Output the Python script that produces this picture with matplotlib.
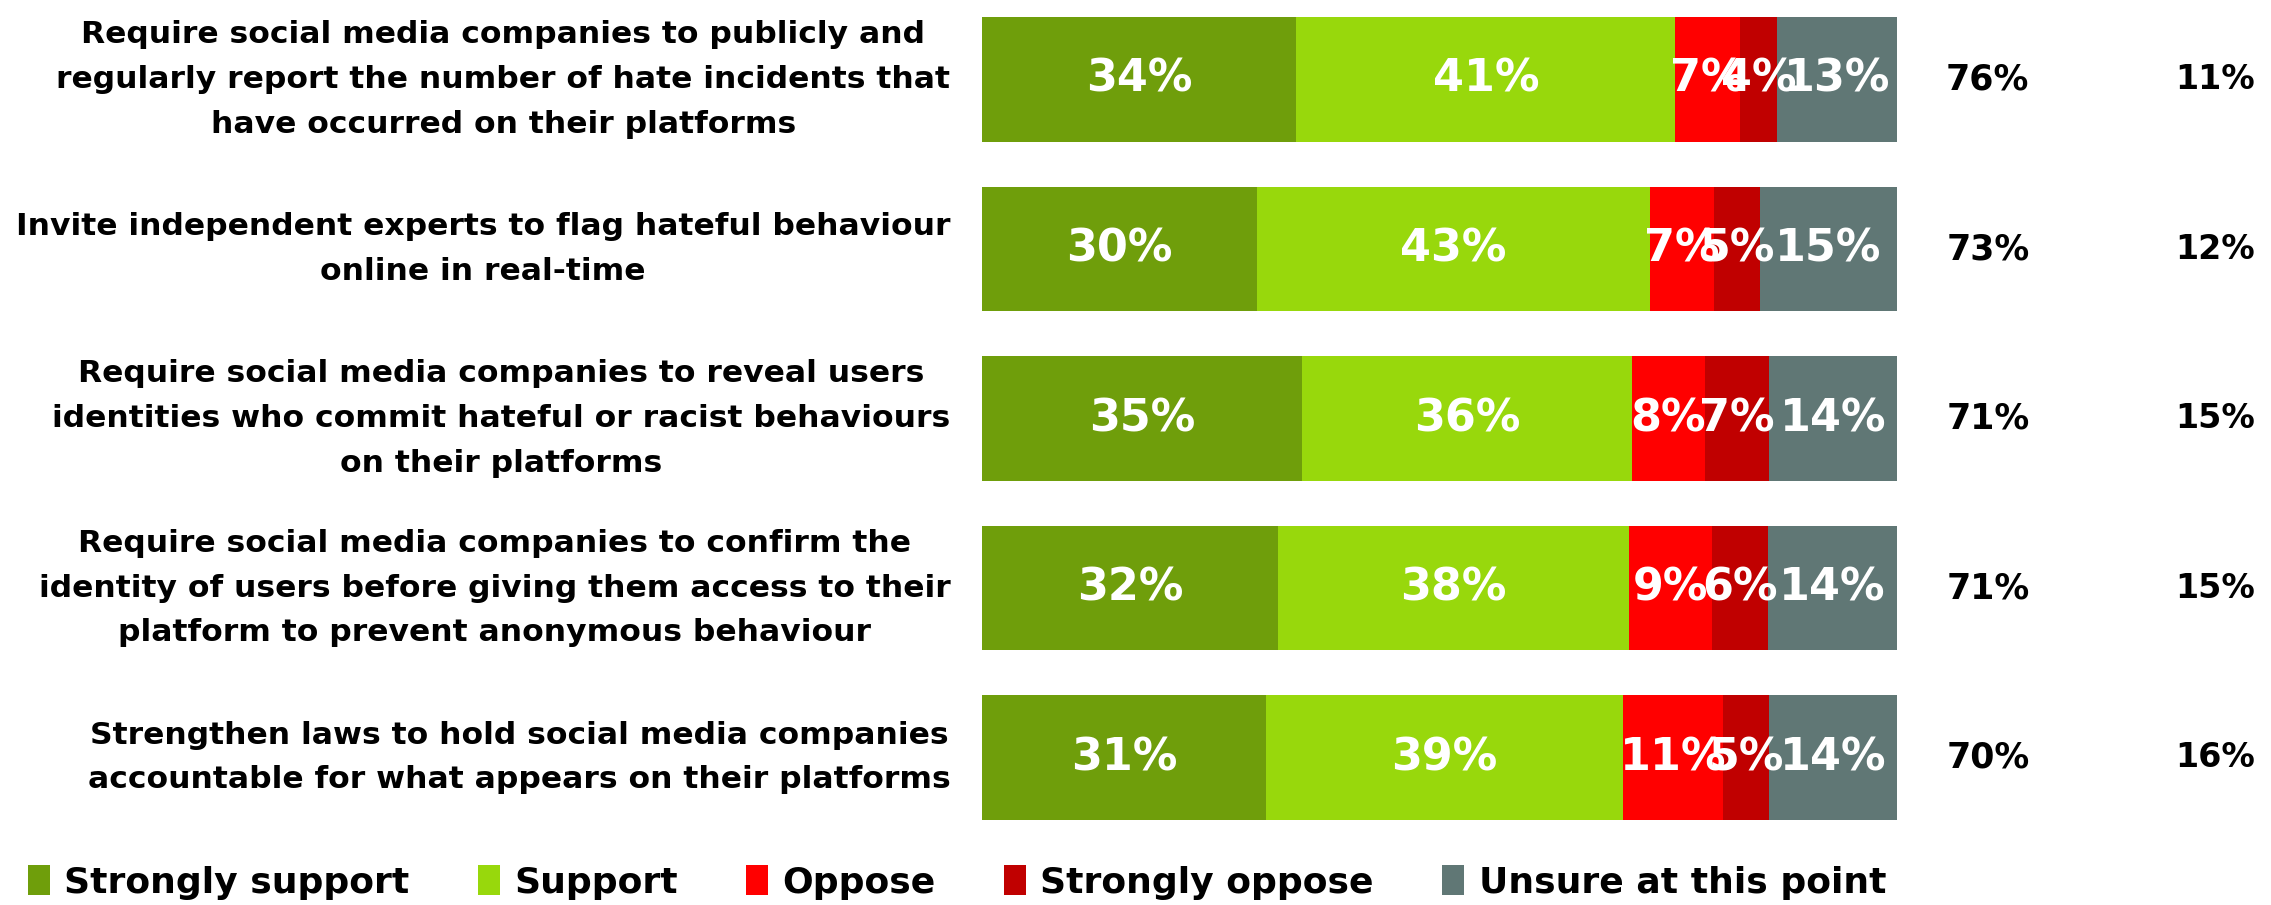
import matplotlib.pyplot as plt
from matplotlib.patches import Patch
from matplotlib.transforms import blended_transform_factory

plt.rcParams['font.family'] = ['DejaVu Sans']
plt.rcParams['font.weight'] = 'bold'

questions = [
    "Require social media companies to publicly and\nregularly report the number of hate incidents that\nhave occurred on their platforms",
    "Invite independent experts to flag hateful behaviour\nonline in real-time",
    "Require social media companies to reveal users\nidentities who commit hateful or racist behaviours\non their platforms",
    "Require social media companies to confirm the\nidentity of users before giving them access to their\nplatform to prevent anonymous behaviour",
    "Strengthen laws to hold social media companies\naccountable for what appears on their platforms",
]
categories = ["Strongly support", "Support", "Oppose", "Strongly oppose", "Unsure at this point"]
strongly_support = [34, 30, 35, 32, 31]
support = [41, 43, 36, 38, 39]
oppose = [7, 7, 8, 9, 11]
strongly_oppose = [4, 5, 7, 6, 5]
unsure = [13, 15, 14, 14, 14]
total_support = ["76%", "73%", "71%", "71%", "70%"]
total_oppose = ["11%", "12%", "15%", "15%", "16%"]

colors = ["#6f9e0b", "#98d80c", "#ff0000", "#c00000", "#607775"]
series = [strongly_support, support, oppose, strongly_oppose, unsure]

fig = plt.figure(figsize=(22.71, 9.05), dpi=100)
ax = fig.add_axes([0.4324, 0.094, 0.4030, 0.887])

n = len(questions)
rows = list(range(n))
sums = [sum(s[i] for s in series) for i in rows]
left = [0.0] * n
for vals, col in zip(series, colors):
    w = [vals[i] / sums[i] for i in rows]
    ax.barh(rows, w, left=left, height=0.735, color=col, edgecolor='none')
    for i in rows:
        ax.text(left[i] + w[i] / 2, i, f"{vals[i]}%", ha='center', va='center',
                color='white', fontsize=32, fontweight='bold')
    left = [left[i] + w[i] for i in rows]

ax.set_xlim(0, 1)
ax.set_ylim(n - 1 + 0.3675, -0.3675)
ax.axis('off')

tr = blended_transform_factory(ax.transAxes, ax.transData)
for i in rows:
    ax.text(-0.0345, i, questions[i], transform=tr, ha='right', va='center',
            multialignment='center', fontsize=22.6, fontweight='bold', linespacing=1.68)
    ax.text(1.099, i, total_support[i], transform=tr, ha='center', va='center',
            fontsize=25, fontweight='bold')
    ax.text(1.347, i, total_oppose[i], transform=tr, ha='center', va='center',
            fontsize=24, fontweight='bold')

handles = [Patch(facecolor=c, edgecolor='none') for c in colors]
fig.legend(handles, categories, loc='lower left', bbox_to_anchor=(-0.002, -0.03),
           ncol=5, frameon=False, handlelength=0.6, handleheight=0.9,
           handletextpad=0.4, columnspacing=1.9, prop={'weight': 'bold', 'size': 26})

fig.savefig("out.png", dpi=100)
